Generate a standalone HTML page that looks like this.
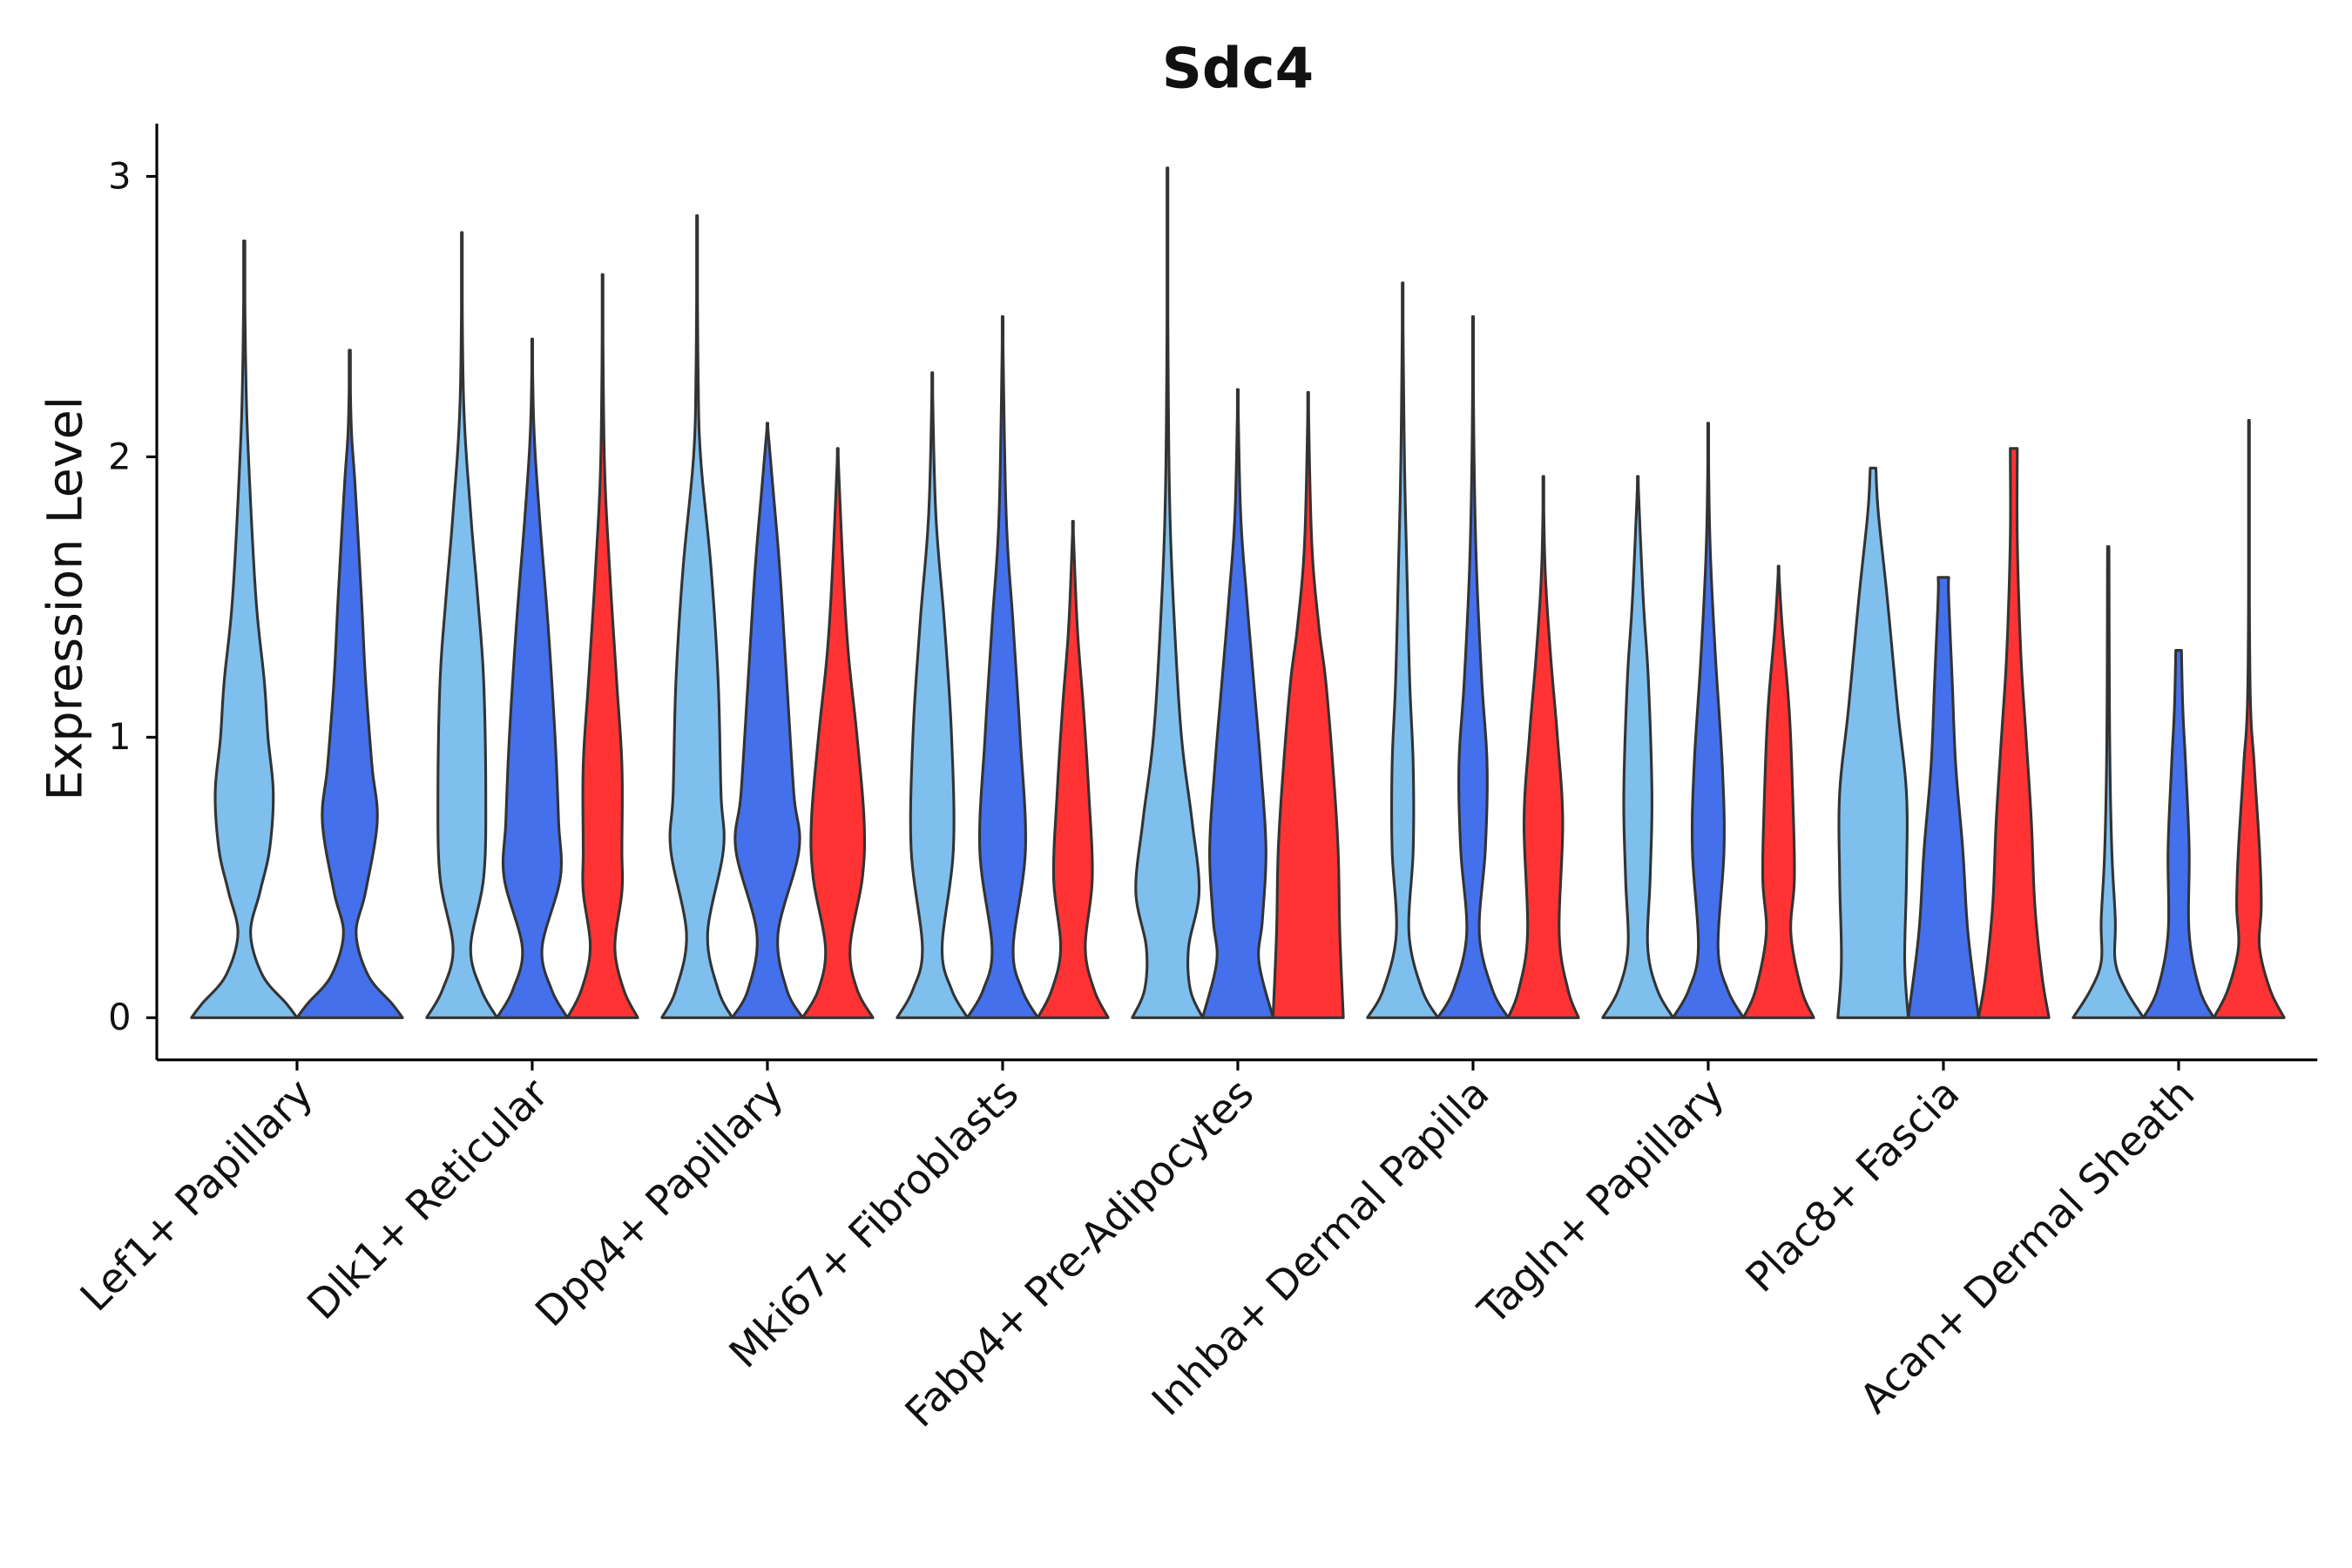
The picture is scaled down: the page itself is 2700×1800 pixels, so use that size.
<!DOCTYPE html>
<html><head><meta charset="utf-8"><style>
html,body{margin:0;padding:0;background:#fff;}
svg{display:block;}
text{font-family:"DejaVu Sans","Liberation Sans",sans-serif;fill:#111;}
</style></head><body>
<svg id="chart" width="2700" height="1800" viewBox="0 0 1560 1040" xmlns="http://www.w3.org/2000/svg">
<text x="821" y="58" text-anchor="middle" font-size="37" font-weight="bold">Sdc4</text>
<text transform="translate(54,397) rotate(-90)" text-anchor="middle" font-size="32">Expression Level</text>
<g id="axes"></g>
<g id="violins"></g>
</svg>
<script>
const categories = ["Lef1+ Papillary","Dlk1+ Reticular","Dpp4+ Papillary","Mki67+ Fibroblasts","Fabp4+ Pre-Adipocytes","Inhba+ Dermal Papilla","Tagln+ Papillary","Plac8+ Fascia","Acan+ Dermal Sheath"];
const groupNames = ["light","blue","red"];
const yTicks = [0,1,2,3];
const lef1 = [[0,[[0,1],[0.05,0.8],[0.15,0.35],[0.3,0.12],[0.45,0.3],[0.6,0.48],[0.8,0.55],[1.0,0.45],[1.2,0.38],[1.5,0.22],[2.0,0.08],[2.3,0.03],[2.77,0]]],
              [1,[[0,1],[0.05,0.8],[0.15,0.35],[0.3,0.12],[0.45,0.3],[0.7,0.52],[0.9,0.42],[1.2,0.3],[1.5,0.22],[1.9,0.1],[2.1,0.03],[2.38,0]]]];
const dlk1 = [[0,[[0,1],[0.1,0.55],[0.25,0.25],[0.5,0.62],[0.8,0.68],[1.2,0.62],[1.5,0.45],[1.8,0.25],[2.2,0.05],[2.8,0]]],
              [1,[[0,1],[0.1,0.55],[0.25,0.28],[0.5,0.8],[0.7,0.75],[1.0,0.65],[1.4,0.45],[1.8,0.2],[2.1,0.05],[2.42,0]]],
              [2,[[0,1],[0.1,0.6],[0.25,0.35],[0.45,0.55],[0.6,0.55],[0.9,0.55],[1.2,0.4],[1.6,0.2],[2.0,0.05],[2.65,0]]]];
const dpp4 = [[0,[[0,1],[0.1,0.6],[0.3,0.3],[0.6,0.75],[0.8,0.68],[1.2,0.6],[1.6,0.4],[2.0,0.1],[2.3,0.03],[2.86,0]]],
              [1,[[0,1],[0.1,0.55],[0.3,0.3],[0.6,0.9],[0.8,0.75],[1.2,0.55],[1.6,0.35],[1.9,0.15],[2.12,0]]],
              [2,[[0,1],[0.1,0.55],[0.25,0.35],[0.5,0.7],[0.7,0.75],[1.0,0.55],[1.3,0.3],[1.6,0.15],[2.03,0]]]];
const mki67 = [[0,[[0,1],[0.1,0.55],[0.25,0.28],[0.6,0.6],[1.0,0.55],[1.4,0.35],[1.8,0.1],[2.3,0]]],
               [1,[[0,1],[0.1,0.55],[0.25,0.3],[0.6,0.65],[1.0,0.5],[1.4,0.3],[1.8,0.1],[2.5,0]]],
               [2,[[0,1],[0.1,0.6],[0.25,0.35],[0.5,0.55],[0.8,0.45],[1.1,0.3],[1.4,0.12],[1.77,0]]]];
const fabp4 = [[0,[[0,1],[0.1,0.65],[0.25,0.6],[0.45,0.9],[0.7,0.7],[1.0,0.4],[1.4,0.2],[1.8,0.07],[2.3,0.02],[3.03,0]]],
               [1,[[0,1],[0.2,0.6],[0.35,0.7],[0.6,0.8],[0.9,0.65],[1.2,0.45],[1.5,0.25],[1.8,0.08],[2.24,0]]],
               [2,[[0,1],[0.3,0.9],[0.6,0.85],[0.9,0.7],[1.2,0.5],[1.4,0.3],[1.7,0.1],[2.23,0]]]];
const inhba = [[0,[[0,1],[0.1,0.55],[0.3,0.18],[0.6,0.3],[0.9,0.3],[1.2,0.2],[1.6,0.12],[2.0,0.05],[2.62,0]]],
               [1,[[0,1],[0.1,0.55],[0.3,0.18],[0.6,0.35],[0.9,0.4],[1.2,0.25],[1.6,0.1],[2.0,0.03],[2.5,0]]],
               [2,[[0,1],[0.1,0.7],[0.3,0.45],[0.7,0.55],[1.0,0.4],[1.3,0.2],[1.6,0.05],[1.93,0]]]];
const tagln = [[0,[[0,1],[0.1,0.55],[0.25,0.28],[0.5,0.35],[0.8,0.4],[1.2,0.3],[1.5,0.15],[1.93,0]]],
               [1,[[0,1],[0.1,0.55],[0.25,0.28],[0.6,0.45],[0.9,0.4],[1.3,0.2],[1.7,0.05],[2.12,0]]],
               [2,[[0,1],[0.1,0.65],[0.3,0.35],[0.5,0.45],[0.8,0.4],[1.1,0.3],[1.4,0.1],[1.61,0]]]];
const plac8 = [[0,[[0,1],[0.2,0.9],[0.5,0.95],[0.8,0.95],[1.1,0.7],[1.5,0.4],[1.8,0.15],[1.96,0.08]]],
               [1,[[0,1],[0.3,0.7],[0.6,0.55],[0.9,0.35],[1.2,0.25],[1.5,0.15],[1.57,0.15]]],
               [2,[[0,1],[0.15,0.8],[0.4,0.6],[0.7,0.5],[1.0,0.35],[1.3,0.2],[1.7,0.1],[2.03,0.1]]]];
const acan = [[0,[[0,1],[0.1,0.5],[0.2,0.2],[0.35,0.2],[0.6,0.1],[1.0,0.04],[1.68,0.02]]],
              [1,[[0,1],[0.1,0.6],[0.3,0.3],[0.6,0.3],[0.9,0.2],[1.1,0.12],[1.31,0.08]]],
              [2,[[0,1],[0.1,0.6],[0.25,0.3],[0.4,0.35],[0.6,0.3],[0.9,0.15],[1.2,0.03],[2.13,0]]]];
const violinData = [lef1,dlk1,dpp4,mki67,fabp4,inhba,tagln,plac8,acan];

const NS="http://www.w3.org/2000/svg";
const colors=["#7fbfee","#4570ec","#ff3333"];
const plot={left:104,right:1537,top:82,bottom:703,y0:675,yUnit:186};
const band=156, firstCenter=197;
function xScale(i){return firstCenter+i*band;}
function yScale(v){return plot.y0-v*plot.yUnit;}
function mk(tag,attrs){const e=document.createElementNS(NS,tag);for(const k in attrs)e.setAttribute(k,attrs[k]);return e;}

const axes=document.getElementById('axes');
const yAxis=mk('line',{x1:plot.left,y1:plot.top,x2:plot.left,y2:plot.bottom,stroke:'#000','stroke-width':1.8});


axes.appendChild(yAxis);
const xAxis=mk('line',{x1:plot.left,y1:plot.bottom,x2:plot.right,y2:plot.bottom,stroke:'#000','stroke-width':1.8});


axes.appendChild(xAxis);
yTicks.forEach(t=>{
  const y=yScale(t);
  const tk=mk('line',{x1:plot.left-7,y1:y,x2:plot.left,y2:y,stroke:'#000','stroke-width':1.8});
  
  
  axes.appendChild(tk);
  const lb=mk('text',{x:plot.left-17,y:y+8,'text-anchor':'end','font-size':24});
  lb.textContent=t;
  
  
  axes.appendChild(lb);
});
categories.forEach((c,i)=>{
  const x=xScale(i);
  const tk=mk('line',{x1:x,y1:plot.bottom,x2:x,y2:plot.bottom+7,stroke:'#000','stroke-width':1.8});
  
  
  axes.appendChild(tk);
  const lb=mk('text',{transform:`translate(${x+12},${plot.bottom+24}) rotate(-45)`,'text-anchor':'end','font-size':27});
  lb.textContent=c;
  
  
  axes.appendChild(lb);
});

function sampleProfile(p){
  const out=[];
  for(let k=0;k<p.length-1;k++){
    const p0=p[Math.max(0,k-1)],p1=p[k],p2=p[k+1],p3=p[Math.min(p.length-1,k+2)];
    const steps=12;
    for(let s=0;s<steps;s++){
      const t=s/steps,t2=t*t,t3=t2*t;
      const f=(a,b,c,d)=>0.5*((2*b)+(-a+c)*t+(2*a-5*b+4*c-d)*t2+(-a+3*b-3*c+d)*t3);
      out.push([f(p0[0],p1[0],p2[0],p3[0]),Math.max(0.012,f(p0[1],p1[1],p2[1],p3[1]))]);
    }
  }
  const last=p[p.length-1];out.push([last[0],Math.max(0.012,last[1])]);
  return out;
}
const vg=document.getElementById('violins');
violinData.forEach((vs,i)=>{
  const n=vs.length, dw=140/n, cx=xScale(i);
  vs.forEach((v,j)=>{
    const g=v[0], pts=sampleProfile(v[1]);
    const xc=cx+(j-(n-1)/2)*dw, hw=dw/2;
    const right=pts.map(q=>`${(xc+q[1]*hw).toFixed(2)},${yScale(q[0]).toFixed(2)}`);
    const left=pts.slice().reverse().map(q=>`${(xc-q[1]*hw).toFixed(2)},${yScale(q[0]).toFixed(2)}`);
    const path=mk('path',{d:'M'+right.join(' L')+' L'+left.join(' L')+' Z',fill:colors[g],stroke:'#333','stroke-width':1.8,'stroke-linejoin':'round'});
    
    
    vg.appendChild(path);
  });
});
</script>
</body></html>
